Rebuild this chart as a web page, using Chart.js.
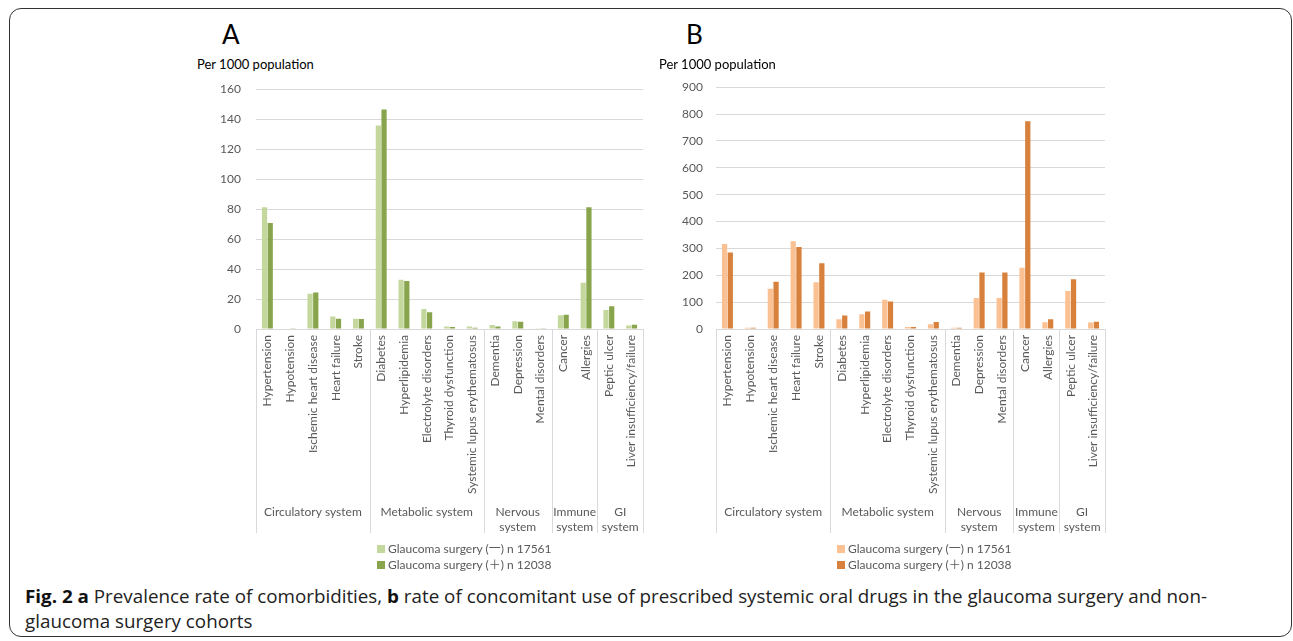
<!DOCTYPE html>
<html>
<head>
<meta charset="utf-8">
<script src="https://cdn.jsdelivr.net/npm/chart.js@4/dist/chart.umd.min.js"></script>
<style>
  html, body { margin: 0; padding: 0; background: #fff; }
  body { width: 1293px; height: 641px; position: relative; overflow: hidden;
         font-family: Lato, "Noto Sans", "Noto Sans CJK SC", sans-serif; }
  #frame { position: absolute; left: 9px; top: 8px; width: 1283px; height: 629px;
           border: 1.5px solid #333; border-radius: 12px; box-sizing: border-box; }
  .letter { position: absolute; top: 17px; font-size: 26px; color: #000; line-height: 34px; }
  .unit { position: absolute; top: 56px; font-size: 13px; color: #000; line-height: 16px; white-space: nowrap; }
  .box { position: absolute; top: 67px; width: 470px; height: 483px; }
  .legend { position: absolute; top: 541px; font-size: 12px; color: #595959; }
  .legend .item { height: 16px; line-height: 16px; white-space: nowrap; }
  .legend .sw { display: inline-block; width: 8px; height: 8px; margin-right: 3px; vertical-align: 0px; }
  .caption { position: absolute; left: 25px; font-size: 18px; line-height: 24px; color: #222;
             font-family: "Open Sans", "Noto Sans", sans-serif; white-space: nowrap; transform-origin: 0 50%; }
  .caption b { font-weight: 700; color: #111; }
</style>
</head>
<body>
<div id="frame"></div>

<div class="letter" style="left:222px;">A</div>
<div class="unit" style="left:197px;">Per 1000 population</div>
<div class="box" style="left:190px;"><canvas id="chartA" width="470" height="483"></canvas></div>
<div class="legend" id="legendA" style="left:377px;"></div>

<div class="letter" style="left:686px;">B</div>
<div class="unit" style="left:659px;">Per 1000 population</div>
<div class="box" style="left:650px;"><canvas id="chartB" width="470" height="483"></canvas></div>
<div class="legend" id="legendB" style="left:837px;"></div>

<div class="caption" id="cap1" style="top:584px;"><b>Fig. 2 a</b> Prevalence rate of comorbidities, <b>b</b> rate of concomitant use of prescribed systemic oral drugs in the glaucoma surgery and non-</div>
<div class="caption" id="cap2" style="top:609px;">glaucoma surgery cohorts</div>

<script>
// Categories along the horizontal axis, grouped by organ system
const categories = [
  'Hypertension', 'Hypotension', 'Ischemic heart disease', 'Heart failure', 'Stroke',
  'Diabetes', 'Hyperlipidemia', 'Electrolyte disorders', 'Thyroid dysfunction', 'Systemic lupus erythematosus',
  'Dementia', 'Depression', 'Mental disorders',
  'Cancer', 'Allergies',
  'Peptic ulcer', 'Liver insufficiency/failure'
];
const systemNames = ['Circulatory system', 'Metabolic system', ['Nervous', 'system'], ['Immune', 'system'], ['GI', 'system']];
const systemSizes = [5, 5, 3, 2, 2];

const seriesLabels = ['Glaucoma surgery (一) n 17561', 'Glaucoma surgery (＋) n 12038'];

// (A) prevalence of comorbidities, per 1000 population
const comorbidityNoSurgery = [81.2, 0.3, 23.5, 8.4, 6.9, 135.8, 32.8, 13.3, 1.6, 1.6, 2.7, 5.1, 0.1, 9.1, 30.8, 12.6, 2.4];
const comorbiditySurgery   = [70.8, 0.2, 24.4, 6.9, 6.7, 146.5, 32.0, 11.1, 1.3, 0.9, 1.6, 4.9, 0.1, 9.5, 81.2, 15.1, 2.9];

// (B) concomitant systemic oral drugs, per 1000 population
const drugNoSurgery = [316, 5, 150, 327, 174, 36, 55, 109, 7.5, 17.5, 5, 115, 115, 228, 25, 141, 24];
const drugSurgery   = [285, 5, 176, 305, 245, 50, 65, 102, 7.5, 26, 5, 210, 210, 773, 36, 185, 27];

// Value-axis tick labels
const ticksA = [0, 20, 40, 60, 80, 100, 120, 140, 160];
const ticksB = [0, 100, 200, 300, 400, 500, 600, 700, 800, 900];

const TEXT_GREY = '#595959';
const GRID_GREY = '#d9d9d9';

// Draws the second category level: system separators and system names
const systemAxis = {
  id: 'systemAxis',
  afterDraw(chart, args, opts) {
    const xs = chart.scales.x;
    const ctx = chart.ctx;
    const top = xs.top;
    const bottom = top + opts.depth;
    const n = chart.data.labels.length;
    const edges = [xs.left];
    let idx = 0;
    opts.sizes.forEach(size => {
      idx += size;
      edges.push(idx >= n ? xs.right : (xs.getPixelForTick(idx - 1) + xs.getPixelForTick(idx)) / 2);
    });
    ctx.save();
    ctx.strokeStyle = GRID_GREY;
    ctx.lineWidth = 1;
    edges.forEach(px => {
      const p = Math.round(px) + 0.5;
      ctx.beginPath();
      ctx.moveTo(p, top);
      ctx.lineTo(p, bottom);
      ctx.stroke();
    });
    ctx.fillStyle = TEXT_GREY;
    ctx.font = opts.font;
    ctx.textAlign = 'center';
    ctx.textBaseline = 'middle';
    opts.names.forEach((name, i) => {
      const lines = [].concat(name);
      const cx = (edges[i] + edges[i + 1]) / 2;
      lines.forEach((t, j) => ctx.fillText(t, cx, top + opts.offset + j * opts.lineHeight));
    });
    ctx.restore();
  }
};

function makeChart(id, legendId, seriesA, seriesB, colors, ticks, yWidth, tickPad, padRight) {
  const chart = new Chart(document.getElementById(id), {
    type: 'bar',
    data: {
      labels: categories,
      datasets: [
        { label: seriesLabels[0], data: seriesA, backgroundColor: colors[0] },
        { label: seriesLabels[1], data: seriesB, backgroundColor: colors[1] }
      ]
    },
    plugins: [systemAxis],
    options: {
      responsive: false,
      animation: false,
      layout: { padding: { left: 0, right: padRight, top: 9, bottom: 0 } },
      datasets: { bar: { categoryPercentage: 0.5, barPercentage: 0.92 } },
      plugins: {
        legend: { display: false },
        tooltip: { enabled: false },
        systemAxis: { names: systemNames, sizes: systemSizes, depth: 204, offset: 183, lineHeight: 15,
                      font: '12px Lato, "Noto Sans", sans-serif' }
      },
      scales: {
        x: {
          grid: { display: false, drawTicks: false },
          border: { display: true, color: GRID_GREY, width: 1 },
          ticks: {
            autoSkip: false, minRotation: 90, maxRotation: 90, padding: 6,
            color: TEXT_GREY, font: { family: 'Lato, "Noto Sans", sans-serif', size: 12 }
          },
          afterFit: s => { s.height = 221; }
        },
        y: {
          min: ticks[0], max: ticks[ticks.length - 1],
          grid: { color: GRID_GREY, drawTicks: false },
          border: { display: false },
          ticks: { padding: tickPad, color: TEXT_GREY, font: { family: 'Lato, "Noto Sans", sans-serif', size: 12 } },
          afterBuildTicks: s => { s.ticks = ticks.map(v => ({ value: v })); },
          afterFit: s => { s.width = yWidth; }
        }
      }
    }
  });

  // Legend listing built from the chart's own datasets
  const box = document.getElementById(legendId);
  chart.data.datasets.forEach(ds => {
    const item = document.createElement('div');
    item.className = 'item';
    const sw = document.createElement('span');
    sw.className = 'sw';
    sw.style.background = ds.backgroundColor;
    item.appendChild(sw);
    item.appendChild(document.createTextNode(ds.label));
    box.appendChild(item);
  });
  return chart;
}

makeChart('chartA', 'legendA', comorbidityNoSurgery, comorbiditySurgery, ['#c4d89e', '#88a54e'], ticksA, 66, 15, 17);
makeChart('chartB', 'legendB', drugNoSurgery, drugSurgery, ['#fbc193', '#d7813c'], ticksB, 66, 13, 15);

// Caption set in a condensed measure across the frame
const cap1 = document.getElementById('cap1');
const cap2 = document.getElementById('cap2');
const k = 1182 / cap1.getBoundingClientRect().width;
cap1.style.transform = 'scaleX(' + k + ')';
cap2.style.transform = 'scaleX(' + k + ')';
</script>
</body>
</html>
